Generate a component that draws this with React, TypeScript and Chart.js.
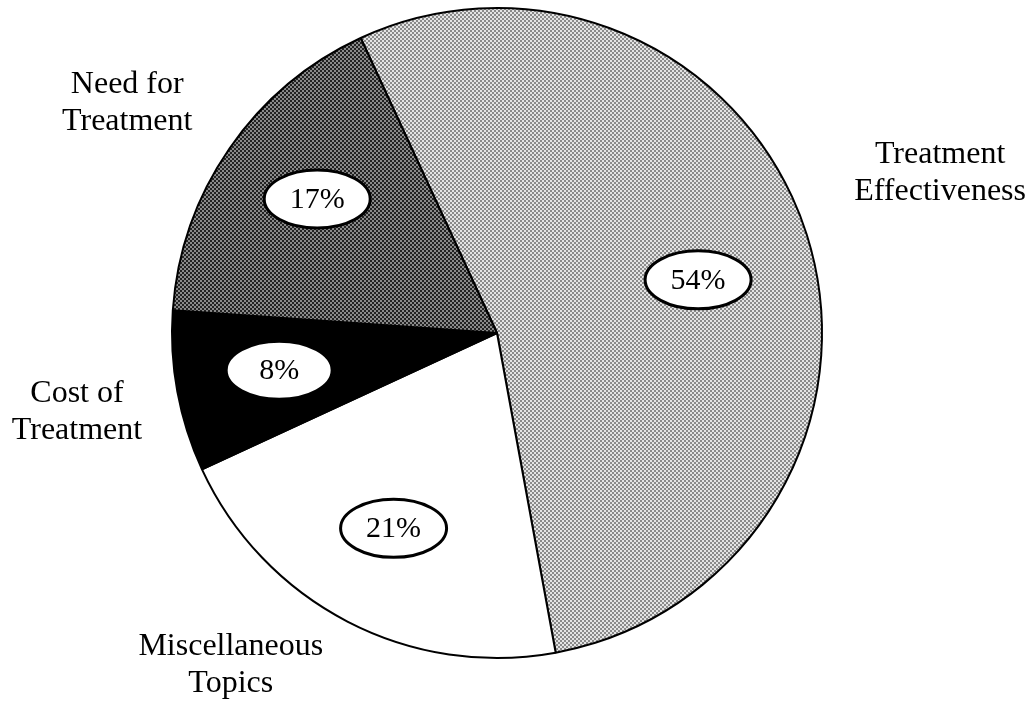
import React, { useEffect, useRef } from "react";
import { Chart, registerables } from "chart.js";

Chart.register(...registerables);

// Share of items per topic, in percent, drawn clockwise from the first slice.
const categories = ["Treatment Effectiveness", "Miscellaneous Topics", "Cost of Treatment", "Need for Treatment"];
const shares = [54, 21, 8, 17];
const nameLines = [
  ["Treatment", "Effectiveness"],
  ["Miscellaneous", "Topics"],
  ["Cost of", "Treatment"],
  ["Need for", "Treatment"],
];

// First slice begins this many degrees left of twelve o'clock.
const START_ROTATION = -24.8;

// Where the labels sit, relative to each slice's middle angle and the pie radius.
const percentPlacement = [
  { turn: 2.8, reach: 0.64 },
  { turn: 0.5, reach: 0.68 },
  { turn: 0.7, reach: 0.68 },
  { turn: 2.1, reach: 0.69 },
];
const namePlacement = [
  { turn: -2.3, reach: 1.45 },
  { turn: 11.3, reach: 1.31 },
  { turn: -0.25, reach: 1.315 },
  { turn: -2.7, reach: 1.34 },
];

const SERIF = '"Liberation Serif", "Times New Roman", serif';

function stipple(base: string, dot: string): CanvasPattern | string {
  const tile = document.createElement("canvas");
  tile.width = 4;
  tile.height = 4;
  const t = tile.getContext("2d");
  if (!t) return base;
  t.fillStyle = base;
  t.fillRect(0, 0, 4, 4);
  t.fillStyle = dot;
  t.fillRect(0, 0, 2, 2);
  t.fillRect(2, 2, 2, 2);
  const ctx = document.createElement("canvas").getContext("2d");
  return (ctx && ctx.createPattern(tile, "repeat")) || base;
}

const sliceLabels = {
  id: "sliceLabels",
  afterDatasetsDraw(chart: any) {
    const ctx: CanvasRenderingContext2D = chart.ctx;
    const meta = chart.getDatasetMeta(0);
    const values: number[] = chart.data.datasets[0].data;
    meta.data.forEach((arc: any, i: number) => {
      const { x, y, startAngle, endAngle, outerRadius } = arc.getProps(
        ["x", "y", "startAngle", "endAngle", "outerRadius"],
        true
      );
      const mid = (startAngle + endAngle) / 2;

      // percentage in a white oval
      const pp = percentPlacement[i];
      const pa = mid + (pp.turn * Math.PI) / 180;
      const px = x + Math.cos(pa) * outerRadius * pp.reach;
      const py = y + Math.sin(pa) * outerRadius * pp.reach;
      ctx.save();
      ctx.beginPath();
      ctx.ellipse(px, py, 53, 29, 0, 0, Math.PI * 2);
      ctx.fillStyle = "#ffffff";
      ctx.fill();
      ctx.lineWidth = 3;
      ctx.strokeStyle = "#000000";
      ctx.stroke();
      ctx.fillStyle = "#000000";
      ctx.font = `30px ${SERIF}`;
      ctx.textAlign = "center";
      ctx.textBaseline = "middle";
      ctx.fillText(`${values[i]}%`, px, py + 1);

      // topic name outside the pie
      const np = namePlacement[i];
      const na = mid + (np.turn * Math.PI) / 180;
      const nx = x + Math.cos(na) * outerRadius * np.reach;
      const ny = y + Math.sin(na) * outerRadius * np.reach;
      ctx.font = `32px ${SERIF}`;
      const lines = nameLines[i];
      const lineHeight = 37;
      lines.forEach((line, k) => {
        ctx.fillText(line, nx, ny + (k - (lines.length - 1) / 2) * lineHeight);
      });
      ctx.restore();
    });
  },
};

export default function App() {
  const canvasRef = useRef<HTMLCanvasElement | null>(null);

  useEffect(() => {
    const canvas = canvasRef.current;
    if (!canvas) return;
    const fills = [
      stipple("#e4e4e4", "#8a8a8a"),
      "#ffffff",
      "#000000",
      stipple("#222222", "#8a8a8a"),
    ];
    const chart = new Chart(canvas, {
      type: "pie",
      data: {
        labels: categories,
        datasets: [
          {
            data: shares,
            backgroundColor: fills as any,
            borderColor: "#000000",
            borderWidth: 2,
            hoverOffset: 0,
          },
        ],
      },
      options: {
        responsive: false,
        animation: false,
        rotation: START_ROTATION,
        layout: { padding: { left: 171, right: 206, top: 7, bottom: 43 } },
        plugins: {
          legend: { display: false },
          tooltip: { enabled: false },
        },
        events: [],
      },
      plugins: [sliceLabels],
    });
    return () => chart.destroy();
  }, []);

  return (
    <div style={{ position: "fixed", left: 0, top: 0, width: 1029, height: 702, background: "#ffffff" }}>
      <canvas ref={canvasRef} width={1029} height={702} style={{ display: "block" }} />
    </div>
  );
}
